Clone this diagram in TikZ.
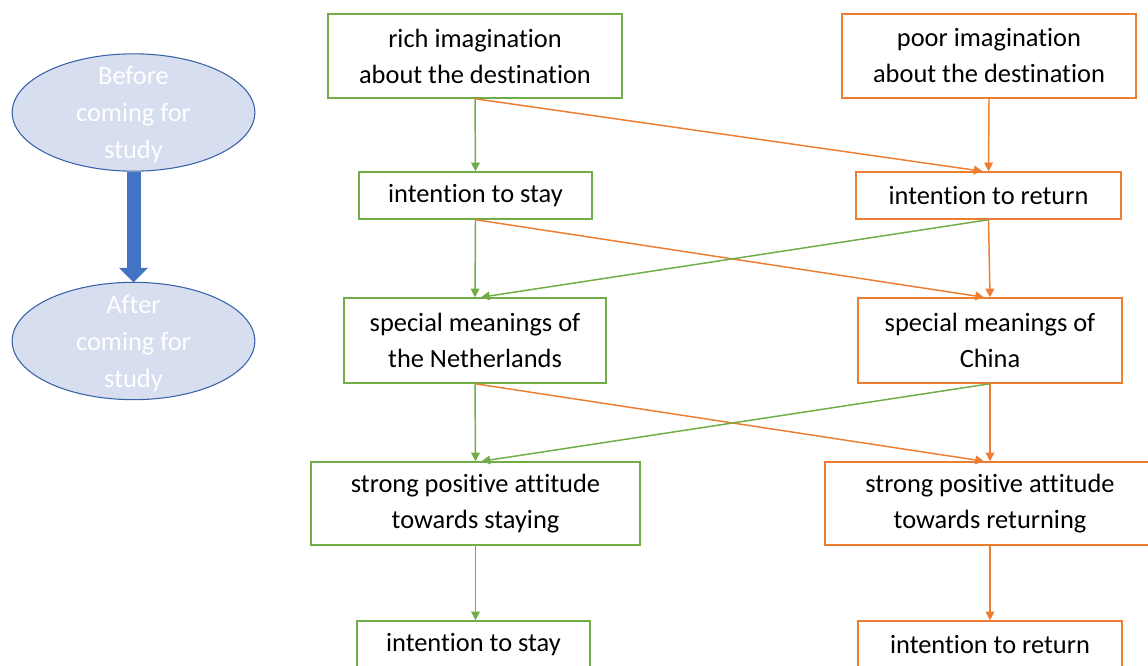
\documentclass[tikz,border=0pt]{standalone}
\usepackage{fontspec}
\setmainfont{Carlito}[Ligatures=NoCommon]
\usetikzlibrary{arrows.meta,calc,shapes.geometric}
\definecolor{cgreen}{HTML}{70AD47}
\definecolor{corange}{HTML}{ED7D31}
\definecolor{cblue}{HTML}{4472C4}
\definecolor{cfill}{HTML}{D6DEEF}
\definecolor{cedge}{HTML}{3A62A8}
\tikzset{
  box/.style={draw, line width=1.1pt, fill=white, inner sep=0pt, align=center,
    font=\fontsize{19.8}{27}\selectfont},
  gbox/.style={box, draw=cgreen},
  obox/.style={box, draw=corange},
  garr/.style={draw=cgreen, line width=1.1pt, -{Triangle[length=6.5pt,width=6.5pt]}},
  oarr/.style={draw=corange, line width=1.1pt, -{Triangle[length=6.5pt,width=6.5pt]}},
  oval/.style={ellipse, draw=cedge, line width=0.8pt, fill=cfill, inner sep=0pt,
    minimum width=182pt, minimum height=88pt},
  ovaltext/.style={text=white, align=center, inner sep=0pt,
    font=\fontsize{19.8}{27.75}\selectfont},
}
\begin{document}
\begin{tikzpicture}[x=0.75pt,y=-0.75pt]
\useasboundingbox (0,0) rectangle (1148,666);
\clip (0,0) rectangle (1148,666);
\fill[white] (0,0) rectangle (1148,666);
% ellipses
\node[oval] (e1) at (133.5,112.5) {};
\node[ovaltext] (t1) at ($(e1.center)+(0,2.5)$) {Before\\coming for\\study};
\node[oval] (e2) at (133.5,341) {};
\node[ovaltext] (t2) at ($(e2.center)+(0,2.5)$) {After\\coming for\\study};
\draw[cblue, line width=10.5pt, -{Triangle[length=11pt,width=21pt]}, shorten >=-0.5pt] (e1.south) -- (e2.north);
% boxes
\node[gbox, minimum width=220.5pt, minimum height=63pt] (b1) at (475,56) {rich imagination\\about the destination};
\node[obox, minimum width=220.5pt, minimum height=63pt] (b2) at (989,56) {poor imagination\\about the destination};
\node[gbox, minimum width=174.75pt, minimum height=35.25pt] (b3) at (475.5,195.5) {intention to stay};
\node[obox, minimum width=198.75pt, minimum height=35.25pt] (b4) at (988.5,195.5) {intention to return};
\node[gbox, minimum width=196.5pt, minimum height=63.75pt] (b5) at (475,340.5) {special meanings of\\the Netherlands};
\node[obox, minimum width=198pt, minimum height=63.75pt] (b6) at (990,340.5) {special meanings of\\China};
\node[gbox, minimum width=246.75pt, minimum height=62.25pt] (b7) at (475.5,503.5) {strong positive attitude\\towards staying};
\node[obox, minimum width=247.5pt, minimum height=62.25pt] (b8) at (990,503.5) {strong positive attitude\\towards returning};
\node[gbox, minimum width=174.75pt, minimum height=35.25pt] (b9) at (473.5,644.5) {intention to stay};
\node[obox, minimum width=198pt, minimum height=35.25pt] (b10) at (990,644.5) {intention to return};
% connectors
\draw[garr] (b1.south) -- (b3.north);
\draw[oarr] (b1.south) -- ($(b4.north)+(-6,0)$);
\draw[oarr] (b2.south) -- (b4.north);
\draw[garr] (b3.south) -- (b5.north);
\draw[oarr] (b3.south) -- ($(b6.north)+(-6,0)$);
\draw[oarr] (b4.south) -- (b6.north);
\draw[garr] (b4.south) -- ($(b5.north)+(6,0)$);
\draw[garr] (b5.south) -- (b7.north);
\draw[oarr] (b5.south) -- ($(b8.north)+(-6,0)$);
\draw[oarr] (b6.south) -- (b8.north);
\draw[garr] (b6.south) -- ($(b7.north)+(6,0)$);
\draw[garr] (b7.south) -- (b9.north -| b7.south);
\draw[oarr] (b8.south) -- (b10.north);
\end{tikzpicture}
\end{document}
